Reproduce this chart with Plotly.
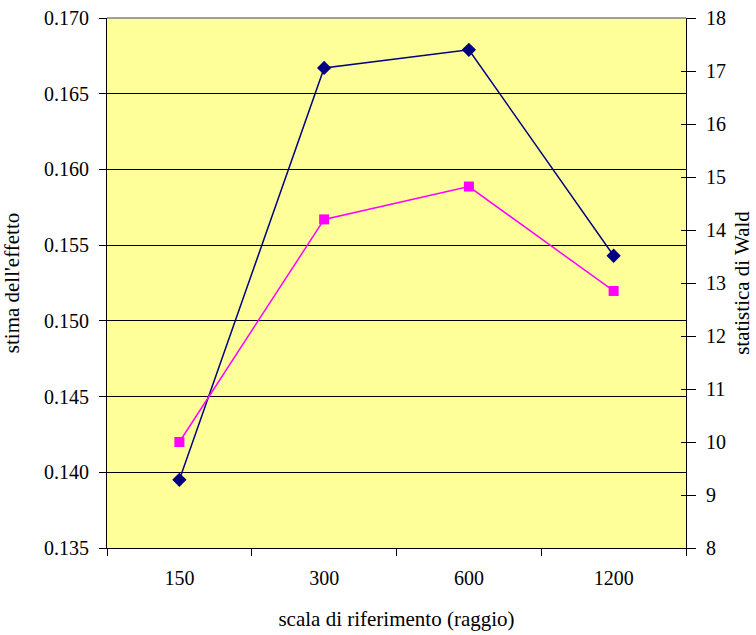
import plotly.graph_objects as go

# Reference scales (radius) and the two estimated quantities
scale = ["150", "300", "600", "1200"]
effect_estimate = [0.1395, 0.1667, 0.1679, 0.1543]
wald_statistic = [10.0, 14.2, 14.82, 12.85]

FONT = "Liberation Serif"
NAVY = "#000080"
MAGENTA = "#FF00FF"
TICK_SIZE = 20
TITLE_SIZE = 21

fig = go.Figure()

fig.add_trace(go.Scatter(
    x=scale, y=effect_estimate, mode="lines+markers", name="stima dell'effetto",
    line=dict(color=NAVY, width=1.5),
    marker=dict(symbol="diamond", size=11, color=NAVY),
    yaxis="y", showlegend=False,
))
fig.add_trace(go.Scatter(
    x=scale, y=wald_statistic, mode="lines+markers", name="statistica di Wald",
    line=dict(color=MAGENTA, width=1.5),
    marker=dict(symbol="square", size=10, color=MAGENTA),
    yaxis="y2", showlegend=False,
))

fig.update_layout(
    width=756, height=635,
    margin=dict(l=107, r=70, t=18, b=87, autoexpand=False),
    paper_bgcolor="white",
    plot_bgcolor="#FFFF99",
    font=dict(family=FONT, size=TICK_SIZE, color="black"),
    xaxis=dict(
        type="category",
        range=[-0.5, len(scale) - 0.5],
        tickson="boundaries",
        ticks="outside", ticklen=7, tickcolor="black",
        tickfont=dict(family=FONT, size=TICK_SIZE),
        showline=True, linecolor="black", linewidth=1,
        showgrid=False, zeroline=False,
        ticklabelstandoff=12, automargin=False,
        title=dict(text="scala di riferimento (raggio)",
                   font=dict(family=FONT, size=TITLE_SIZE), standoff=23),
    ),
    yaxis=dict(
        range=[0.135, 0.170],
        tickvals=[0.135, 0.140, 0.145, 0.150, 0.155, 0.160, 0.165, 0.170],
        ticktext=["0.135", "0.140", "0.145", "0.150", "0.155", "0.160", "0.165", "0.170"],
        ticks="outside", ticklen=7, tickcolor="black",
        tickfont=dict(family=FONT, size=TICK_SIZE),
        ticklabelstandoff=6,
        showline=True, linecolor="black", linewidth=1,
        showgrid=True, gridcolor="black", gridwidth=1,
        zeroline=False, automargin=False,
        title=dict(text="stima dell'effetto",
                   font=dict(family=FONT, size=TITLE_SIZE), standoff=21),
    ),
    yaxis2=dict(
        range=[8, 18], dtick=1,
        overlaying="y", side="right",
        ticks="outside", ticklen=9, tickcolor="black",
        tickfont=dict(family=FONT, size=TICK_SIZE),
        ticklabelstandoff=6,
        showline=True, linecolor="black", linewidth=1,
        showgrid=False, zeroline=False, automargin=False,
        title=dict(text="statistica di Wald",
                   font=dict(family=FONT, size=TITLE_SIZE), standoff=9),
    ),
    yaxis3=dict(
        range=[8, 18], dtick=1,
        overlaying="y", side="right",
        ticks="inside", ticklen=5, tickcolor="black",
        showticklabels=False, showgrid=False, zeroline=False, showline=False,
        automargin=False,
    ),
    shapes=[
        dict(type="line", xref="paper", yref="paper", x0=0, x1=1, y0=1, y1=1,
             line=dict(color="#808080", width=1.5)),
    ],
)

# Invisible trace to anchor the inner tick marks of the secondary axis
fig.add_trace(go.Scatter(x=[scale[0]], y=[8], yaxis="y3", mode="markers",
                         marker=dict(opacity=0), showlegend=False, hoverinfo="skip"))

fig.write_html("out.html")
